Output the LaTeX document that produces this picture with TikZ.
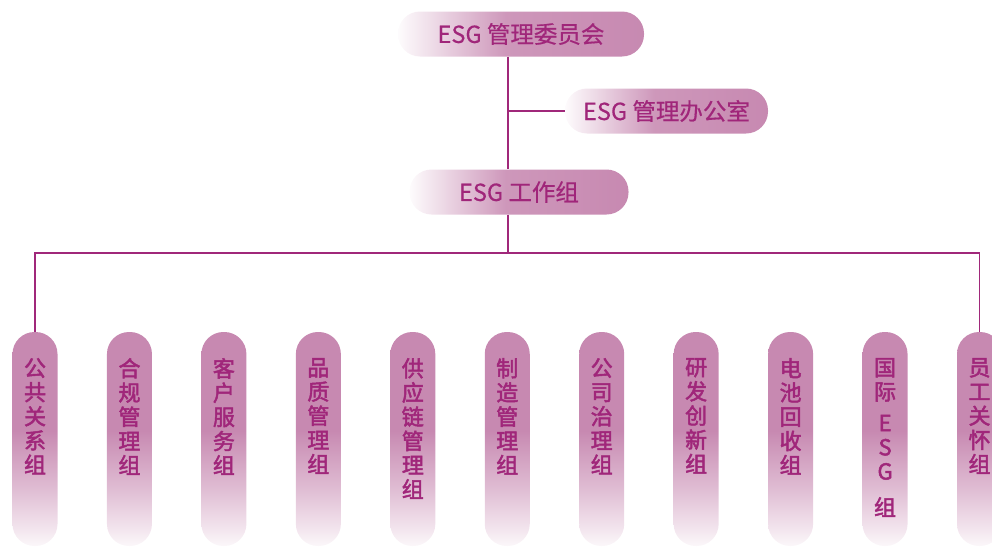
\documentclass[tikz,border=0pt]{standalone}
\usepackage{fontspec}
\setmainfont{Noto Sans CJK SC}
\newfontfamily\topfont{Noto Sans CJK SC}[FakeBold=0.5]
\newfontfamily\colfont{Noto Sans CJK SC}[FakeBold=2.2]
\definecolor{pinkc}{RGB}{199,137,177}
\definecolor{txtc}{RGB}{160,38,122}
\definecolor{linec}{RGB}{160,40,122}
\pgfdeclarehorizontalshading{boxshade}{100bp}{color(0bp)=(white); color(25bp)=(white!97!pinkc); color(47bp)=(pinkc!88!white); color(75bp)=(pinkc); color(100bp)=(pinkc)}
\pgfdeclareverticalshading{pillshade}{100bp}{color(0bp)=(white!93!pinkc); color(25bp)=(white!93!pinkc); color(38bp)=(pinkc!55!white); color(52bp)=(pinkc); color(75bp)=(pinkc); color(100bp)=(pinkc)}
\tikzset{
  topbox/.style={shade, shading=boxshade, rounded corners=22pt, minimum height=45pt, inner sep=0pt, text=txtc, font=\topfont\fontsize{23.5}{27}\selectfont},
  pill/.style={shade, shading=pillshade, rounded corners=22pt, minimum width=45pt, minimum height=214pt, inner sep=0pt},
  vtext/.style={anchor=north, align=center, inner sep=0pt, text=txtc, font=\colfont\fontsize{22}{24.2}\selectfont},
  conn/.style={draw=linec, line width=1.8pt}
}
\begin{document}
\begin{tikzpicture}[x=1pt,y=-1pt]
\useasboundingbox (0,0) rectangle (992,546);
\clip (0,0) rectangle (992,546);
\node[topbox, minimum width=246pt] (committee) at (521,34) {ESG 管理委员会};
\node[topbox, minimum width=203pt] (office) at (666.5,111) {ESG 管理办公室};
\node[topbox, minimum width=219pt] (wg) at (519,192) {ESG 工作组};
\coordinate (spine) at (508,0);
\coordinate (branch) at (spine |- office);
\coordinate (wgtop) at (spine |- wg.north);
\coordinate (wgbot) at (spine |- wg.south);
\coordinate (bus) at (508,253);
\draw[conn] (spine |- committee.south) -- (wgtop);
\draw[conn] (branch) -- (office.west);
\foreach \i/\t in {1/{公\\共\\关\\系\\组},2/{合\\规\\管\\理\\组},3/{客\\户\\服\\务\\组},4/{品\\质\\管\\理\\组},5/{供\\应\\链\\管\\理\\组},6/{制\\造\\管\\理\\组},7/{公\\司\\治\\理\\组},8/{研\\发\\创\\新\\组},9/{电\\池\\回\\收\\组},10/{国\\际\\[7pt]E\\S\\G\\[12pt]组},11/{员\\工\\关\\怀\\组}}{
  \pgfmathsetmacro{\cx}{35+(\i-1)*94.45}
  \node[pill] (c\i) at (\cx,439) {};
  \node[vtext] (t\i) at (\cx,358) {\t};
}
\draw[conn] (wgbot) -- (bus);
\draw[conn] (c1.north) -- (c1.north |- bus) -- (c11.north |- bus) -- (c11.north);
\end{tikzpicture}
\end{document}
